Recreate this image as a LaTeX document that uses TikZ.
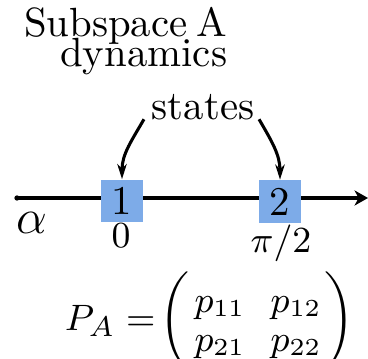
\documentclass[tikz,border=0pt]{standalone}
\usetikzlibrary{arrows.meta}
\definecolor{boxblue}{RGB}{125,171,232}
\begin{document}
\begin{tikzpicture}[x=0.245pt,y=-0.245pt,
  txt/.style={inner sep=0pt, font=\fontsize{10}{12}\selectfont},
  statebox/.style={fill=boxblue, inner sep=0pt, minimum size=10.3pt, font=\fontsize{10}{12}\selectfont},
  curvearrow/.style={line width=0.75pt, -{Stealth[length=3.7pt,width=2.3pt,inset=1.1pt]}},
  axisline/.style={line width=1pt, -{Stealth[length=3.3pt,width=3.7pt,inset=1pt]}}]
\useasboundingbox (0,0) rectangle (368,358);
\node[txt, anchor=base east] (t1) at (228,37) {\spaceskip=2.2pt Subspace A};
\node[txt, anchor=base east] (t2) at (228,67) {dynamics};
\node[txt, anchor=base] (states) at (203,120) {states};
\node[circle, fill, inner sep=0pt, minimum size=1.3pt] (dot) at (17,198) {};
\coordinate (axend) at (368,198);
\draw[axisline] (dot.center) -- (axend);
\node[statebox] (b1) at (122,201) {1};
\node[statebox] (b2) at (280,201.5) {2};
\draw[curvearrow] ([shift={(-7,-2)}]states.south west) to[out=-120,in=90] (b1.north);
\draw[curvearrow] ([shift={(4,-2)}]states.south east) to[out=-60,in=90] (b2.north);
\node[inner sep=0pt, anchor=base west, font=\fontsize{12.5}{15}\selectfont] (alpha) at (16,233) {$\alpha$};
\node[inner sep=0pt, anchor=base, font=\fontsize{9}{11}\selectfont] (zero) at (121,247.5) {$0$};
\node[inner sep=0pt, anchor=base, font=\fontsize{9.5}{11}\selectfont] (pihalf) at (281,252) {$\pi/2$};
\node[inner sep=0pt, anchor=base west, font=\fontsize{9.5}{11}\selectfont] (PA) at (64,330)
  {$P_A = \!\biggl(\raisebox{-0.8pt}{\fontsize{9}{9.5}\selectfont$\begin{array}{@{\hspace{1.2pt}}c@{\hspace{6.2pt}}c@{\hspace{0.6pt}}} p_{11} & p_{12}\\ p_{21} & p_{22}\end{array}$}\biggr)$};
\end{tikzpicture}
\end{document}
